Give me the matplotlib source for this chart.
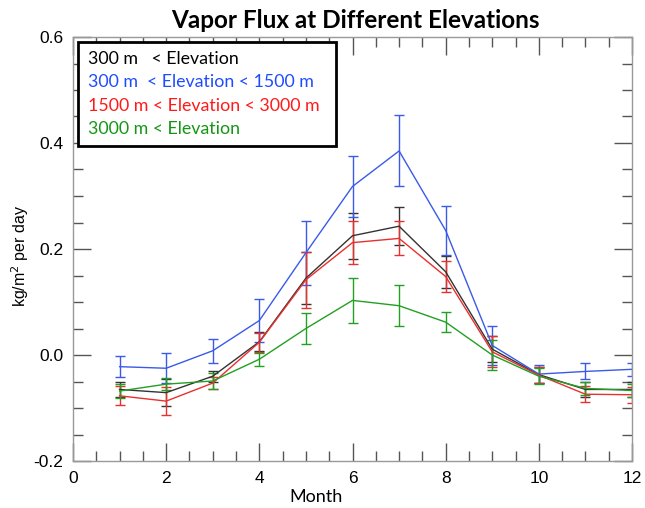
import matplotlib
matplotlib.use("Agg")
import matplotlib.pyplot as plt
from matplotlib.ticker import MultipleLocator
from matplotlib.patches import Rectangle

months = [1, 2, 3, 4, 5, 6, 7, 8, 9, 10, 11, 12]

low_vals = [-0.065, -0.071, -0.040, 0.025, 0.145, 0.225, 0.243, 0.157, 0.011, -0.037, -0.065, -0.065]
low_err = [0.015, 0.025, 0.010, 0.018, 0.049, 0.043, 0.036, 0.030, 0.025, 0.015, 0.015, 0.015]

mid_vals = [-0.022, -0.025, 0.008, 0.065, 0.193, 0.318, 0.385, 0.235, 0.018, -0.036, -0.031, -0.027]
mid_err = [0.020, 0.028, 0.023, 0.040, 0.060, 0.058, 0.067, 0.047, 0.036, 0.017, 0.015, 0.012]

high_vals = [-0.077, -0.087, -0.053, 0.024, 0.142, 0.212, 0.220, 0.148, 0.006, -0.038, -0.074, -0.075]
high_err = [0.018, 0.026, 0.012, 0.018, 0.053, 0.041, 0.032, 0.030, 0.029, 0.015, 0.015, 0.015]

top_vals = [-0.068, -0.055, -0.049, -0.008, 0.050, 0.103, 0.093, 0.062, 0.000, -0.040, -0.063, -0.067]
top_err = [0.013, 0.011, 0.015, 0.012, 0.030, 0.042, 0.039, 0.019, 0.028, 0.015, 0.012, 0.012]

labels = ["300 m   < Elevation",
          "300 m  < Elevation < 1500 m",
          "1500 m < Elevation < 3000 m",
          "3000 m < Elevation"]
line_colors = ["#333333", "#3a5ae8", "#e8302e", "#22a022"]
text_colors = ["#000000", "#1f4cff", "#ff1a1a", "#149614"]

fig = plt.figure(figsize=(6.45, 5.08), dpi=100)
ax = fig.add_axes([73/645, 1-461/508, (632-73)/645, (461-37)/508])

series = [(low_vals, low_err), (mid_vals, mid_err), (high_vals, high_err), (top_vals, top_err)]
for (v, e), c in zip(series, line_colors):
    ax.errorbar(months, v, yerr=e, color=c, lw=1.0, elinewidth=1.0,
                capsize=3.3, capthick=1.0)

ax.set_xlim(0, 12)
ax.set_ylim(-0.2, 0.6)
ax.xaxis.set_major_locator(MultipleLocator(2))
ax.xaxis.set_minor_locator(MultipleLocator(0.5))
ax.yaxis.set_major_locator(MultipleLocator(0.2))
ax.yaxis.set_minor_locator(MultipleLocator(0.05))
ax.yaxis.set_major_formatter(plt.FuncFormatter(lambda v, p: f"{v:.1f}"))
ax.xaxis.set_major_formatter(plt.FuncFormatter(lambda v, p: f"{int(round(v))}"))

ax.tick_params(which='both', direction='in', top=True, right=True, color='#555555')
ax.tick_params(which='major', length=13, width=1.0, labelsize=12.5, pad=7)
ax.tick_params(which='minor', length=7, width=1.0)
for lab in ax.get_xticklabels() + ax.get_yticklabels():
    lab.set_fontfamily('Liberation Sans')
for s in ax.spines.values():
    s.set_color('#999999')
    s.set_linewidth(1.0)

fig.text(355/645, 1-20/508, "Vapor Flux at Different Elevations", ha='center', va='center',
         fontsize=17.5, fontweight='bold', family='Lato')
fig.text(316/645, 1-497/508, "Month", ha='center', va='center', fontsize=13, family='Lato')
fig.text(20/645, 1-256/508, "kg/m$^2$ per day", ha='center', va='center', rotation=90,
         fontsize=11.5, family='Liberation Sans')

box = Rectangle((78/645, 1-146/508), (336-78)/645, (146-42)/508, transform=fig.transFigure,
                facecolor='white', edgecolor='black', linewidth=2.0, zorder=10)
fig.patches.append(box)
for i, (lab, tc) in enumerate(zip(labels, text_colors)):
    fig.text(88/645, 1-(59 + 23.4*i)/508, lab, ha='left', va='center', color=tc,
             fontsize=12.8, family='Lato', zorder=11)

fig.savefig("out.png", dpi=100)
